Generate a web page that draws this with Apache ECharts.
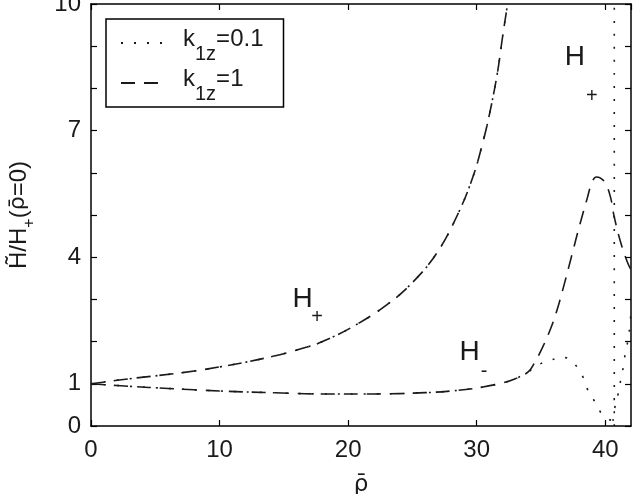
<!DOCTYPE html>
<html>
<head>
<meta charset="utf-8">
<script src="https://cdn.jsdelivr.net/npm/echarts@6/dist/echarts.min.js"></script>
<style>
html, body { margin: 0; padding: 0; background: #fff; }
#chart { width: 636px; height: 494px; }
</style>
</head>
<body>
<div id="chart"></div>
<script>
// H+ branch, the two k1z curves lie on top of each other here
var upperRho = [0, 3, 7, 10, 13.7, 16.8, 18, 20.4, 23, 25, 26.9, 28.5, 29.7, 30.5, 31, 31.6, 32, 32.4];
var upperH   = [1, 1.12, 1.26, 1.4, 1.62, 1.87, 2.0, 2.36, 2.87, 3.4, 4.1, 5.0, 5.9, 6.75, 7.4, 8.35, 9.2, 10];

// H- branch, shared part
var lowerRho = [0, 3, 6, 10, 14, 18, 22, 26, 28, 30, 32, 33, 34];
var lowerH   = [1, 0.94, 0.89, 0.83, 0.79, 0.76, 0.76, 0.79, 0.83, 0.9, 1.02, 1.12, 1.28];

// k1z=0.1 : end of H-, pole, and rising branch
var tailRho01 = [34.8, 35.7, 36.5, 36.9, 37.4, 37.8, 38.3, 38.6, 39.2, 39.7, 40.2, 40.6];
var tailH01   = [1.45, 1.55, 1.62, 1.62, 1.52, 1.4, 1.14, 0.88, 0.57, 0.3, 0.17, 0.12];
var poleRho01 = [40.7, 40.7];
var poleH01   = [0, 10];
var riseRho01 = [40.6, 40.75, 41.0, 41.2, 41.4, 41.55, 41.75, 41.9, 42];
var riseH01   = [0.12, 0.45, 0.76, 1.09, 1.4, 1.71, 2.01, 2.35, 2.7];

// k1z=1 : end of H-
var tailRho1 = [34.5, 35.1, 35.7, 36.2, 36.8, 37.4, 38, 38.6, 38.95, 39.3, 39.6, 40, 40.4, 40.7, 41.2, 41.7, 42];
var tailH1   = [1.5, 1.85, 2.27, 2.7, 3.35, 4.05, 4.75, 5.4, 5.76, 5.9, 5.88, 5.76, 5.43, 4.95, 4.35, 3.9, 3.7];

var xLabels = [0, 10, 20, 30, 40];
var yLabels = [0, 1, 4, 7, 10];

function zip(xs, ys) {
  return xs.map(function (x, i) { return [x, ys[i]]; });
}

var font = 'Liberation Sans, Arial, Helvetica, sans-serif';
var markFont = 'DejaVu Sans';
var ink = '#1a1a1a';
var dotted = [2, 11];
var dashed = [14, 9];

function curve(name, data, type) {
  return {
    name: name,
    type: 'line',
    data: data,
    symbol: 'none',
    smooth: 0.4,
    animation: false,
    silent: true,
    itemStyle: { color: ink },
    lineStyle: { color: ink, width: 1.6, type: type }
  };
}

var myChart = echarts.init(document.getElementById('chart'));

option = {
  backgroundColor: '#fff',
  animation: false,
  grid: { left: 91, right: 5, top: 4, bottom: 68, containLabel: false, outerBoundsMode: 'none' },
  legend: {
    left: 106,
    top: 19,
    orient: 'vertical',
    padding: [3, 20, 3, 14],
    itemGap: -2,
    itemWidth: 45,
    itemHeight: 14,
    borderColor: '#000',
    borderWidth: 1.5,
    selectedMode: false,
    itemStyle: { color: 'rgba(0,0,0,0)', borderWidth: 0, opacity: 0 },
    data: ['k1z=0.1', 'k1z=1'],
    formatter: function (name) {
      return name === 'k1z=0.1' ? '{g| }{m|k}{s|1z}{m|=0.1}' : '{g| }{m|k}{s|1z}{m|=1}';
    },
    textStyle: {
      color: ink,
      fontFamily: font,
      rich: {
        g: { width: 12, fontSize: 10 },
        m: { fontSize: 24, fontFamily: font, color: ink, lineHeight: 26, padding: [5, 0, 0, 0], verticalAlign: 'top' },
        s: { fontSize: 20, fontFamily: font, color: ink, lineHeight: 42, padding: [22, 0, 0, 0], verticalAlign: 'top' }
      }
    }
  },
  xAxis: [{
    type: 'value',
    min: 0,
    max: 42,
    interval: 10,
    name: '\u03C1\u0304',
    nameLocation: 'middle',
    nameGap: 48,
    nameTextStyle: { fontFamily: markFont, fontSize: 23, color: ink },
    axisLine: { onZero: false, lineStyle: { color: '#000', width: 1.5 } },
    axisTick: { inside: true, length: 6, lineStyle: { color: '#000', width: 1.2 } },
    axisLabel: {
      margin: 12, fontFamily: font, fontSize: 24, color: ink, showMaxLabel: false,
      formatter: function (v) { return xLabels.indexOf(v) >= 0 ? String(v) : ''; }
    },
    splitLine: { show: false }
  }, {
    type: 'value',
    position: 'top',
    min: 0,
    max: 42,
    interval: 10,
    axisLine: { onZero: false, lineStyle: { color: '#000', width: 1.5 } },
    axisTick: { inside: true, length: 6, lineStyle: { color: '#000', width: 1.2 } },
    axisLabel: { show: false },
    splitLine: { show: false }
  }],
  yAxis: [{
    type: 'value',
    min: 0,
    max: 10,
    interval: 1,
    name: '{a|H\u0303/H}{s|+}{a|(}{r|\u03C1\u0304}{a|=0)}',
    nameLocation: 'middle',
    nameGap: 50,
    nameTextStyle: {
      fontFamily: font, fontSize: 24, color: ink,
      rich: {
        a: { fontFamily: font, fontSize: 24, color: ink, lineHeight: 28, verticalAlign: 'top' },
        r: { fontFamily: markFont, fontSize: 22, color: ink, lineHeight: 28, verticalAlign: 'top' },
        s: { fontFamily: font, fontSize: 16, color: ink, lineHeight: 34, padding: [15, 0, 0, 0], verticalAlign: 'top' }
      }
    },
    axisLine: { onZero: false, lineStyle: { color: '#000', width: 1.5 } },
    axisTick: { inside: true, length: 6, lineStyle: { color: '#000', width: 1.2 } },
    axisLabel: {
      margin: 10, fontFamily: font, fontSize: 24, color: ink,
      formatter: function (v) { return yLabels.indexOf(v) >= 0 ? String(v) : ''; }
    },
    splitLine: { show: false }
  }, {
    type: 'value',
    position: 'right',
    min: 0,
    max: 10,
    interval: 1,
    axisLine: { onZero: false, lineStyle: { color: '#000', width: 1.5 } },
    axisTick: { inside: true, length: 6, lineStyle: { color: '#000', width: 1.2 } },
    axisLabel: { show: false },
    splitLine: { show: false }
  }],
  series: [
    curve('k1z=0.1', zip(upperRho, upperH), dotted),
    curve('k1z=0.1', zip(lowerRho.concat(tailRho01), lowerH.concat(tailH01)), dotted),
    curve('k1z=0.1', zip(poleRho01, poleH01), dotted),
    curve('k1z=0.1', zip(riseRho01, riseH01), dotted),
    curve('k1z=1', zip(upperRho, upperH), dashed),
    curve('k1z=1', zip(lowerRho.concat(tailRho1), lowerH.concat(tailH1)), dashed)
  ]
};

myChart.setOption(option);

// branch labels, placed in data coordinates
function tag(text, size, at) {
  var p = myChart.convertToPixel({ xAxisIndex: 0, yAxisIndex: 0 }, at);
  return {
    type: 'text', x: p[0], y: p[1], silent: true,
    style: { text: text, fontFamily: font, fontSize: size, fill: ink, align: 'center', verticalAlign: 'middle' }
  };
}

myChart.setOption({
  graphic: [
    tag('H', 28, [16.45, 3.01]),
    tag('+', 20, [17.58, 2.56]),
    tag('H', 28, [29.44, 1.74]),
    tag('-', 20, [30.57, 1.28]),
    tag('H', 28, [37.64, 8.73]),
    tag('+', 20, [38.96, 7.82])
  ]
});
</script>
</body>
</html>
